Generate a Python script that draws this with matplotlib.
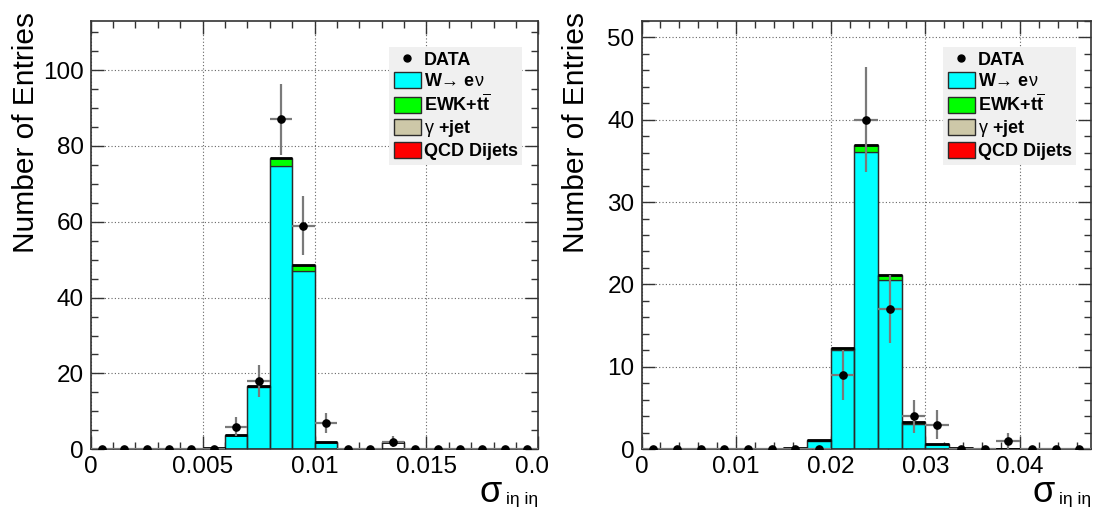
import matplotlib
matplotlib.use("Agg")
import matplotlib.pyplot as plt
from matplotlib.lines import Line2D
from matplotlib.patches import Patch
from matplotlib.ticker import MultipleLocator, FixedFormatter, FixedLocator
from matplotlib.transforms import Bbox, TransformedBbox
import numpy as np

plt.rcParams["font.family"] = ["Liberation Sans", "DejaVu Sans"]
plt.rcParams["mathtext.fontset"] = "custom"
plt.rcParams["mathtext.rm"] = "Liberation Sans"
plt.rcParams["mathtext.bf"] = "Liberation Sans:bold"
plt.rcParams["mathtext.it"] = "Liberation Sans:italic"

# --- left panel: 20 bins, 0 .. 0.02 ---
DATA_L = [0, 0, 0, 0, 0, 0, 6, 18, 87, 59, 7, 0, 0, 2, 0, 0, 0, 0, 0, 0]
WENU_L = [0, 0, 0, 0, 0, 0.3, 3.8, 16.5, 74.8, 47.0, 1.9, 0.15, 0.1, 0, 0, 0, 0, 0, 0, 0]
EWK_L = [0, 0, 0, 0, 0, 0.02, 0.05, 0.3, 2.0, 1.5, 0.05, 0.05, 0, 0, 0, 0, 0, 0, 0, 0]
MCTOT_L = [0, 0, 0, 0, 0, 0.32, 3.85, 16.8, 76.8, 48.5, 1.95, 0.2, 0.1, 1.8, 0, 0, 0, 0, 0, 0]

# --- right panel: 19 bins, 0 .. 0.0475 ---
DATA_R = [0, 0, 0, 0, 0, 0, 0, 0, 9, 40, 17, 4, 3, 0, 0, 1, 0, 0, 0]
WENU_R = [0, 0, 0, 0, 0, 0, 0.1, 1.0, 12.0, 36.1, 20.6, 3.1, 0.6, 0.15, 0.05, 0, 0, 0, 0]
EWK_R = [0, 0, 0, 0, 0, 0, 0, 0.1, 0.3, 0.8, 0.6, 0.2, 0.1, 0, 0, 0, 0, 0, 0]
MCTOT_R = [0, 0, 0, 0, 0, 0, 0.1, 1.1, 12.3, 36.9, 21.2, 3.3, 0.7, 0.15, 0.05, 0, 0, 0, 0]

PANELS = [
    dict(lo=0.0, hi=0.02, data=DATA_L, wenu=WENU_L, ewk=EWK_L, tot=MCTOT_L,
         ymax=113, ymaj=20, ymin=5, xmaj=0.005, xmin=0.001,
         xticks=[0, 0.005, 0.01, 0.015, 0.02],
         xlabels=["0", "0.005", "0.01", "0.015", "0.02"],
         rect=[90.7 / 1094, 61.7 / 511, 447.6 / 1094, 428.6 / 511],
         leg=(0.964, 0.939)),
    dict(lo=0.0, hi=0.0475, data=DATA_R, wenu=WENU_R, ewk=EWK_R, tot=MCTOT_R,
         ymax=52, ymaj=10, ymin=2, xmaj=0.01, xmin=0.002,
         xticks=[0, 0.01, 0.02, 0.03, 0.04],
         xlabels=["0", "0.01", "0.02", "0.03", "0.04"],
         rect=[641.5 / 1094, 61.7 / 511, 449.5 / 1094, 428.6 / 511],
         leg=(0.967, 0.939)),
]

CYAN = "#00ffff"
GREEN = "#00ff00"
TAN = "#cdc8a8"
RED = "#ff0000"
EDGE = "#2b2b2b"

fig = plt.figure(figsize=(10.94, 5.11), dpi=100)

for p in PANELS:
    ax = fig.add_axes(p["rect"])
    n = len(p["data"])
    edges = np.linspace(p["lo"], p["hi"], n + 1)
    centers = 0.5 * (edges[:-1] + edges[1:])
    width = edges[1] - edges[0]
    wenu = np.array(p["wenu"])
    ewk = np.array(p["ewk"])
    tot = np.array(p["tot"])
    data = np.array(p["data"], dtype=float)

    ax.bar(centers, wenu, width, color=CYAN, edgecolor=EDGE, linewidth=0.9, zorder=2)
    ax.bar(centers, ewk, width, bottom=wenu, color=GREEN, edgecolor=EDGE,
           linewidth=0.9, zorder=2)
    ax.bar(centers, tot, width, fill=False, edgecolor=EDGE, linewidth=0.9, zorder=3)
    ax.hlines(tot, edges[:-1], edges[1:], color="black", linewidth=2.0, zorder=4)

    ax.errorbar(centers, data, yerr=np.sqrt(data), xerr=width / 2, fmt="none",
                ecolor="#7a7a7a", elinewidth=1.6, capsize=0, zorder=5)
    ax.plot(centers, data, "o", color="black", markersize=5.2, zorder=6)

    ax.set_xlim(p["lo"], p["hi"])
    ax.set_ylim(0, p["ymax"])
    ax.xaxis.set_major_locator(FixedLocator(p["xticks"]))
    ax.xaxis.set_major_formatter(FixedFormatter(p["xlabels"]))
    ax.xaxis.set_minor_locator(MultipleLocator(p["xmin"]))
    ax.yaxis.set_major_locator(MultipleLocator(p["ymaj"]))
    ax.yaxis.set_minor_locator(MultipleLocator(p["ymin"]))
    ax.tick_params(which="both", direction="in", top=True, right=True,
                   colors="#333333", labelcolor="black", width=1.0)
    ax.tick_params(which="major", length=9.5, labelsize=17.5, pad=5)
    ax.tick_params(which="minor", length=4.7)
    ax.grid(True, which="major", color="0.4", linestyle=(0, (1, 2)), linewidth=0.8)
    ax.set_axisbelow(True)
    for s in ax.spines.values():
        s.set_color("#333333")
        s.set_linewidth(1.2)

    ax.text(-0.145, 1.02, "Number of Entries", transform=ax.transAxes,
            rotation=90, ha="center", va="top", fontsize=21.5)

    sub = ax.text(1.0, -0.128, "iη iη", transform=ax.transAxes,
                  ha="right", va="baseline", fontsize=12.5)
    ax.annotate("σ", xy=(0, 0.35), xycoords=sub, xytext=(-3, 0),
                textcoords="offset points", ha="right", va="baseline",
                fontsize=26)

    handles = [
        Line2D([], [], marker="o", color="black", linestyle="none", markersize=5),
        Patch(facecolor=CYAN, edgecolor=EDGE, linewidth=1.0),
        Patch(facecolor=GREEN, edgecolor=EDGE, linewidth=1.0),
        Patch(facecolor=TAN, edgecolor=EDGE, linewidth=1.0),
        Patch(facecolor=RED, edgecolor=EDGE, linewidth=1.0),
    ]
    labels = [
        "DATA",
        r"W→ e$\mathrm{\nu}$",
        r"EWK+t$\overline{\mathbf{t}}$",
        r"$\mathrm{\gamma}$ +jet",
        "QCD Dijets",
    ]
    leg = ax.legend(handles, labels, loc="upper right", bbox_to_anchor=p["leg"],
                    prop={"weight": "bold", "size": 13}, frameon=True,
                    fancybox=False, facecolor="#f0f0f0", edgecolor="none",
                    framealpha=1.0, borderpad=0.25, labelspacing=0.17,
                    handlelength=1.5, handleheight=0.95, handletextpad=0.15,
                    borderaxespad=0)
    leg.set_zorder(10)
    p["ax"] = ax

# the last tick label of the left panel is cut off at the panel border
fig.canvas.draw()
clip = TransformedBbox(Bbox([[0, 0], [549 / 1094, 1]]), fig.transFigure)
for lab in PANELS[0]["ax"].get_xticklabels():
    lab.set_clip_on(True)
    lab.set_clip_box(clip)

fig.savefig("out.png", dpi=100)
